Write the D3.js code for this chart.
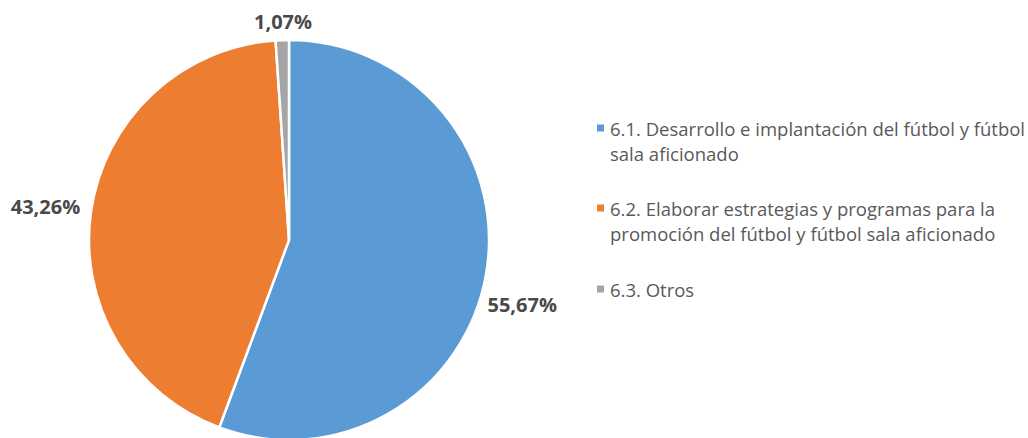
<!DOCTYPE html>
<html>
<head>
<meta charset="utf-8">
<script src="https://cdn.jsdelivr.net/npm/d3@7"></script>
<style>
  body { margin: 0; background: #fff; }
  .lbl { font-family: "Open Sans", "Noto Sans", sans-serif; font-weight: bold; font-size: 20px; fill: #4a4a4a; }
  .leg { font-family: "Open Sans", "Noto Sans", sans-serif; font-size: 18.5px; fill: #595959; }
</style>
</head>
<body>
<div id="chart"></div>
<script>
var categories = ["6.1. Desarrollo e implantación del fútbol y fútbol sala aficionado",
                  "6.2. Elaborar estrategias y programas para la promoción del fútbol y fútbol sala aficionado",
                  "6.3. Otros"],
    legendLines = [["6.1. Desarrollo e implantación del fútbol y fútbol", "sala aficionado"],
                   ["6.2. Elaborar estrategias y programas para la", "promoción del fútbol y fútbol sala aficionado"],
                   ["6.3. Otros"]],
    values = [55.67, 43.26, 1.07],
    labels = ["55,67%", "43,26%", "1,07%"],
    colors = ["#5b9bd5", "#ed7d31", "#a5a5a5"];

var width = 1028, height = 438,
    cx = 289, cy = 240, radius = 200;

var svg = d3.select("#chart").append("svg")
    .attr("width", width)
    .attr("height", height);

var pie = d3.pie().sort(null).value(function (d) { return d; });
var arc = d3.arc().innerRadius(0).outerRadius(radius);
var labelArc = d3.arc().innerRadius(radius + 38).outerRadius(radius + 38);

var g = svg.append("g").attr("transform", "translate(" + cx + "," + cy + ")");
var arcs = pie(values);

g.selectAll("path")
    .data(arcs)
    .enter().append("path")
    .attr("d", arc)
    .attr("fill", function (d, i) { return colors[i]; })
    .attr("stroke", "#fff")
    .attr("stroke-width", 2.5)
    .attr("stroke-linejoin", "round");

// data labels, nudged like Excel's best-fit
var nudge = [[-1, 22], [-8, 1], [2, 19]];
g.selectAll(".lbl")
    .data(arcs)
    .enter().append("text")
    .attr("class", "lbl")
    .attr("text-anchor", "middle")
    .attr("dominant-baseline", "central")
    .attr("x", function (d, i) { return labelArc.centroid(d)[0] + nudge[i][0]; })
    .attr("y", function (d, i) { return labelArc.centroid(d)[1] + nudge[i][1]; })
    .text(function (d, i) { return labels[i]; });

// legend
var legY = [128, 208, 289], lineH = 25;
var legend = svg.selectAll(".legend")
    .data(categories)
    .enter().append("g")
    .attr("class", "legend")
    .attr("transform", function (d, i) { return "translate(597," + legY[i] + ")"; });

legend.append("rect")
    .attr("x", 0)
    .attr("y", -3.5)
    .attr("width", 7)
    .attr("height", 7)
    .attr("fill", function (d, i) { return colors[i]; });

legend.append("text")
    .attr("class", "leg")
    .attr("x", 13)
    .attr("y", 0)
    .attr("dominant-baseline", "central")
    .each(function (d, i) {
      var t = d3.select(this);
      legendLines[i].forEach(function (line, j) {
        t.append("tspan").attr("x", 13).attr("dy", j === 0 ? 0 : lineH).text(line);
      });
    });
</script>
</body>
</html>
